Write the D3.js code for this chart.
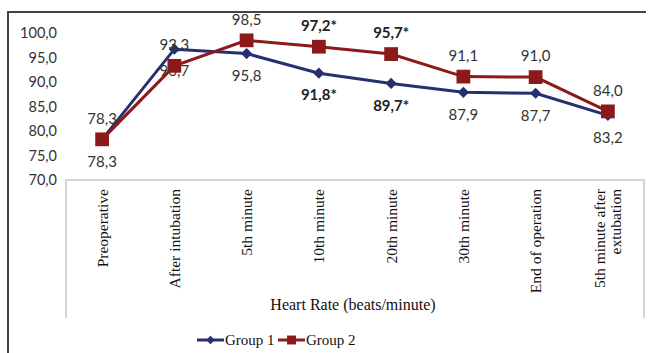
<!DOCTYPE html>
<html>
<head>
<meta charset="utf-8">
<script src="https://cdn.jsdelivr.net/npm/d3@7"></script>
<style>
  body { margin: 0; background: #fff; }
  svg { display: block; }
</style>
</head>
<body>
<svg id="chart"></svg>
<script>
const categories = ["Preoperative", "After intubation", "5th minute", "10th minute",
    "20th minute", "30th minute", "End of operation", "5th minute after|extubation"];
const group1 = [78.3, 96.7, 95.8, 91.8, 89.7, 87.9, 87.7, 83.2];
const group2 = [78.3, 93.3, 98.5, 97.2, 95.7, 91.1, 91.0, 84.0];
const group1Sig = [false, false, false, true, true, false, false, false];
const group2Sig = [false, false, false, true, true, false, false, false];
const yTicks = [70, 75, 80, 85, 90, 95, 100];
const axisTitle = "Heart Rate (beats/minute)";
const seriesNames = ["Group 1", "Group 2"];

const width = 649, height = 353;
const plot = {left: 66, right: 644, top: 33, bottom: 180};
const blue = "#26306f", red = "#8c1a1a";
const labelFont = "Lato, 'Open Sans', sans-serif";
const serif = "'Liberation Serif', 'DejaVu Serif', serif";

const svg = d3.select("#chart")
    .attr("width", width)
    .attr("height", height);

// outer frame (top and left edges only)
svg.append("path")
    .attr("d", `M8,${height} V12 H${width - 3}`)
    .attr("fill", "none")
    .attr("stroke", "#444")
    .attr("stroke-width", 2);

const x = d3.scalePoint()
    .domain(categories)
    .range([plot.left, plot.right])
    .padding(0.5);

const y = d3.scaleLinear()
    .domain([70, 100])
    .range([plot.bottom, plot.top]);

// category box below the axis
svg.append("path")
    .attr("d", `M${plot.left},318 V${plot.bottom} H${plot.right} V318`)
    .attr("fill", "none")
    .attr("stroke", "#c8c8c8")
    .attr("stroke-width", 1.5);

// y tick labels
svg.append("g")
    .selectAll("text")
    .data(yTicks)
    .join("text")
    .attr("x", 57)
    .attr("y", d => y(d))
    .attr("dy", "0.35em")
    .attr("text-anchor", "end")
    .attr("font-family", labelFont)
    .attr("font-size", 14.5)
    .attr("fill", "#333")
    .text(d => d.toFixed(1).replace(".", ","));

// category labels (rotated)
const catG = svg.append("g")
    .selectAll("text")
    .data(categories)
    .join("text")
    .attr("transform", d => `translate(${x(d)},189) rotate(-90)`)
    .attr("text-anchor", "end")
    .attr("font-family", serif)
    .attr("font-size", 15.5)
    .attr("fill", "#111");
catG.each(function(d) {
    const lines = d.split("|");
    const t = d3.select(this);
    lines.forEach((ln, i) => {
        t.append("tspan")
            .attr("x", 0)
            .attr("y", (i - (lines.length - 1) / 2) * 16)
            .attr("dy", "0.35em")
            .text(ln);
    });
});

svg.append("text")
    .attr("x", (plot.left + plot.right) / 2 - 2)
    .attr("y", 304)
    .attr("dy", "0.35em")
    .attr("text-anchor", "middle")
    .attr("font-family", serif)
    .attr("font-size", 16)
    .attr("fill", "#111")
    .text(axisTitle);

const line = d3.line()
    .x((d, i) => x(categories[i]))
    .y(d => y(d));

const diamond = d3.symbol().type(d3.symbolDiamond2).size(80);
const square = d3.symbol().type(d3.symbolSquare).size(190);

function drawSeries(values, color, sym, sig, below) {
    const g = svg.append("g");
    g.append("path")
        .datum(values)
        .attr("d", line)
        .attr("fill", "none")
        .attr("stroke", color)
        .attr("stroke-width", 3);
    g.selectAll("path.pt")
        .data(values)
        .join("path")
        .attr("class", "pt")
        .attr("transform", (d, i) => `translate(${x(categories[i])},${y(d)})`)
        .attr("d", sym)
        .attr("fill", color);
    g.selectAll("text")
        .data(values)
        .join("text")
        .attr("x", (d, i) => x(categories[i]))
        .attr("y", d => y(d) + (below ? 22 : -21))
        .attr("dy", "0.35em")
        .attr("text-anchor", "middle")
        .attr("font-family", labelFont)
        .attr("font-size", 15)
        .attr("font-weight", (d, i) => sig[i] ? "bold" : "normal")
        .attr("fill", (d, i) => sig[i] ? "#222" : "#333")
        .text((d, i) => d.toFixed(1).replace(".", ",") + (sig[i] ? "*" : ""));
}

drawSeries(group1, blue, diamond, group1Sig, true);
drawSeries(group2, red, square, group2Sig, false);

// legend
const legend = svg.append("g").attr("transform", "translate(197,340)");
[[blue, diamond], [red, square]].forEach(([c, s], i) => {
    const lg = legend.append("g").attr("transform", `translate(${i * 81},0)`);
    lg.append("line")
        .attr("x1", 0).attr("x2", 27)
        .attr("stroke", c).attr("stroke-width", 3);
    lg.append("path")
        .attr("transform", "translate(13.5,0)")
        .attr("d", s === diamond ? d3.symbol().type(d3.symbolDiamond2).size(45) : d3.symbol().type(d3.symbolSquare).size(80))
        .attr("fill", c);
    lg.append("text")
        .attr("x", 28)
        .attr("dy", "0.35em")
        .attr("font-family", serif)
        .attr("font-size", 15)
        .attr("fill", "#111")
        .text(seriesNames[i]);
});
</script>
</body>
</html>
